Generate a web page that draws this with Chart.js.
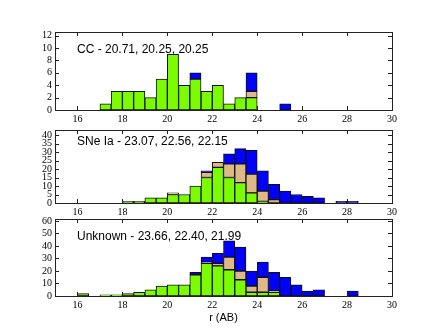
<!DOCTYPE html>
<html>
<head>
<meta charset="utf-8">
<script src="https://cdn.jsdelivr.net/npm/chart.js@4.4.1/dist/chart.umd.min.js"></script>
<style>
  html, body { margin: 0; padding: 0; background: #fff; }
  #wrap { position: relative; width: 436px; height: 329px; overflow: hidden; }
  canvas { position: absolute; left: 0; }
</style>
</head>
<body>
<div id="wrap">
  <canvas id="p1" width="436" height="126" style="top:0px"></canvas>
  <canvas id="p2" width="436" height="99" style="top:120px"></canvas>
  <canvas id="p3" width="436" height="119" style="top:210px"></canvas>
</div>
<script>
// left edges of the 0.5 mag bins
const binStart = [16, 16.5, 17, 17.5, 18, 18.5, 19, 19.5, 20, 20.5, 21, 21.5, 22, 22.5, 23, 23.5, 24, 24.5, 25, 25.5, 26, 26.5, 27, 27.5, 28, 28.5]
const binWidth = 0.5

const ccGreen = [0,0,1,3,3,3,2,5,9,4,5,3,4,1,2,2,0,0,0,0,0,0,0,0,0,0]
const ccTan   = [0,0,0,0,0,0,0,0,0,0,0,0,0,0,0,1,0,0,0,0,0,0,0,0,0,0]
const ccBlue  = [0,0,0,0,0,0,0,0,0,0,1,0,0,0,0,3,0,0,1,0,0,0,0,0,0,0]

const iaGreen = [0,0,0,0,1,1,3,3,5,5,10,15,21,15,12,6,1,0,0,0,0,0,0,0,0,0]
const iaTan   = [0,0,0,0,0,0,0,0,1,0,0,3,3,8,11,11,6,2,0,0,0,0,0,0,0,0]
const iaBlue  = [0,0,0,0,0,0,0,0,0,0,0,1,0,6,9,14,12,9,7,5,4,3,0,1,1,0]

const unGreen = [2,0,1,1,2,3,5,8,9,9,17,26,24,21,13,3,3,3,0,0,0,0,0,0,0,0]
const unTan   = [0,0,0,0,0,0,0,0,0,0,0,1,2,10,7,5,12,1,0,0,0,0,0,0,0,0]
const unBlue  = [0,0,0,0,0,0,0,0,0,0,2,4,8,13,19,12,12,15,15,9,4,5,0,0,4,0]

const xTicks = [16, 18, 20, 22, 24, 26, 28, 30]
const ccTicks = [0, 2, 4, 6, 8, 10, 12]
const iaTicks = [0, 5, 10, 15, 20, 25, 30, 35, 40]
const unTicks = [0, 10, 20, 30, 40, 50, 60]

const labels = ['CC - 20.71, 20.25, 20.25', 'SNe Ia - 23.07, 22.56, 22.15', 'Unknown - 23.66, 22.40, 21.99']

const tickFont = { family: '"Liberation Serif", serif', size: 10 }

// frame with inward ticks + panel label
const framePlugin = {
  id: 'frame',
  afterDraw(chart, args, opts) {
    const ctx = chart.ctx
    const a = chart.chartArea
    const xs = chart.scales.x, ys = chart.scales.y
    ctx.save()
    ctx.strokeStyle = '#222'
    ctx.lineWidth = 1
    ctx.strokeRect(Math.round(a.left) + 0.5, Math.round(a.top) + 0.5, Math.round(a.right - a.left), Math.round(a.bottom - a.top))
    ctx.beginPath()
    xTicks.forEach(v => {
      const px = Math.round(xs.getPixelForValue(v)) + 0.5
      ctx.moveTo(px, a.top); ctx.lineTo(px, a.top + 4)
      ctx.moveTo(px, a.bottom); ctx.lineTo(px, a.bottom - 4)
    })
    opts.yTicks.forEach(v => {
      const py = Math.round(ys.getPixelForValue(v)) + 0.5
      ctx.moveTo(a.left, py); ctx.lineTo(a.left + 4, py)
      ctx.moveTo(a.right, py); ctx.lineTo(a.right - 4, py)
    })
    ctx.stroke()
    ctx.fillStyle = '#000'
    ctx.font = '12px "Liberation Sans"'
    ctx.textBaseline = 'middle'
    ctx.fillText(opts.label, 77, a.top + opts.labelDy)
    ctx.restore()
  }
}

function series(vals) {
  return binStart.map((b, i) => ({ x: b + binWidth / 2, y: vals[i] }))
}

function makePanel(id, green, tan, blue, yMax, yTicks, label, padTop, xAxisH, labelDy, title) {
  const set = (data, color) => ({
    data: series(data),
    backgroundColor: color,
    borderColor: '#111',
    borderWidth: 1,
    borderSkipped: false,
    barPercentage: 1,
    categoryPercentage: 1
  })
  new Chart(document.getElementById(id), {
    type: 'bar',
    data: {
      datasets: [set(green, '#7cfc00'), set(tan, '#deb887'), set(blue, '#0000ff')]
    },
    options: {
      responsive: false,
      animation: false,
      devicePixelRatio: 1,
      layout: { padding: { top: padTop, right: 44, left: 0, bottom: 0 } },
      plugins: {
        legend: { display: false },
        tooltip: { enabled: false },
        frame: { yTicks: yTicks, label: label, labelDy: labelDy }
      },
      scales: {
        x: {
          type: 'linear',
          stacked: true,
          offset: false,
          min: 15, max: 30,
          grid: { display: false, drawTicks: false, offset: false },
          border: { display: false },
          afterBuildTicks: ax => { ax.ticks = xTicks.map(v => ({ value: v })) },
          afterFit: ax => { ax.height = xAxisH },
          ticks: { font: tickFont, color: '#000', padding: 3, maxRotation: 0, autoSkip: false },
          title: title ? { display: true, text: title, font: { family: '"Liberation Sans", sans-serif', size: 11 }, color: '#000', padding: { top: 0, bottom: 4 } } : { display: false }
        },
        y: {
          stacked: true,
          min: 0, max: yMax,
          grid: { display: false, drawTicks: false },
          border: { display: false },
          afterBuildTicks: ax => { ax.ticks = yTicks.map(v => ({ value: v })) },
          afterFit: ax => { ax.width = 55 },
          ticks: { font: tickFont, color: '#000', padding: 3, autoSkip: false }
        }
      }
    },
    plugins: [framePlugin]
  })
}

makePanel('p1', ccGreen, ccTan, ccBlue, 12.6, ccTicks, labels[0], 32, 16, 18, null)
makePanel('p2', iaGreen, iaTan, iaBlue, 43, iaTicks, labels[1], 10, 16, 12, null)
makePanel('p3', unGreen, unTan, unBlue, 61.5, unTicks, labels[2], 9, 33, 18, 'r (AB)')
</script>
</body>
</html>
